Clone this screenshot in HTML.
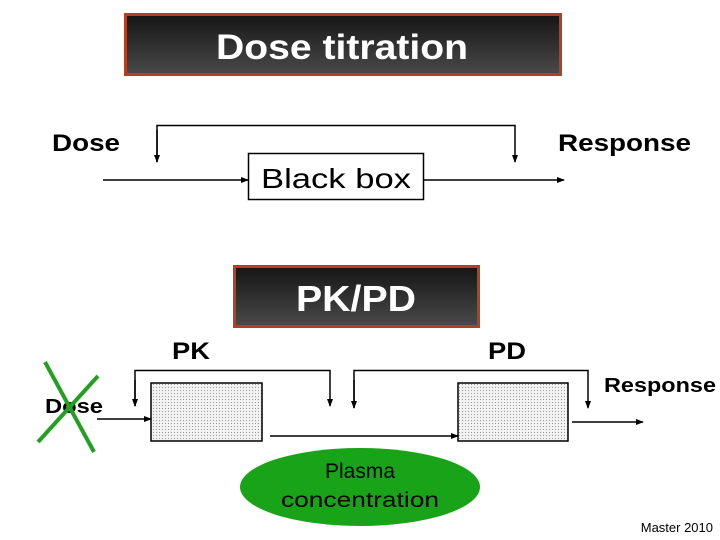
<!DOCTYPE html>
<html><head><meta charset="utf-8"><style>
html,body{margin:0;padding:0;background:#fff;width:720px;height:540px;overflow:hidden}
svg{display:block}
text{font-family:"Liberation Sans",Arial,sans-serif;font-weight:bold}
</style></head><body>
<svg width="720" height="540" viewBox="0 0 720 540" xmlns="http://www.w3.org/2000/svg">
<defs>
<linearGradient id="g" x1="0" y1="0" x2="0" y2="1">
<stop offset="0" stop-color="#151515"/><stop offset="1" stop-color="#4a4a4a"/>
</linearGradient>
<pattern id="dots" width="3" height="3" patternUnits="userSpaceOnUse">
<rect width="3" height="3" fill="#f2f2f2"/><rect width="1" height="1" fill="#9a9a9a"/>
</pattern>
<marker id="a" markerWidth="8" markerHeight="8" refX="7" refY="4" orient="auto" markerUnits="userSpaceOnUse">
<path d="M0,1 L8,4 L0,7 Z" fill="#000"/>
</marker>
</defs>

<!-- Title -->
<rect x="125.5" y="14.5" width="435" height="60" fill="url(#g)" stroke="#b5401e" stroke-width="3"/>
<text x="342" y="59" font-size="35" fill="#fff" text-anchor="middle" textLength="252" lengthAdjust="spacingAndGlyphs">Dose titration</text>

<text x="52" y="151" font-size="24" fill="#000" textLength="68" lengthAdjust="spacingAndGlyphs">Dose</text>
<text x="558" y="151" font-size="24" fill="#000" textLength="133" lengthAdjust="spacingAndGlyphs">Response</text>

<polyline points="157,162 157,125.5 515,125.5 515,162" fill="none" stroke="#000" stroke-width="1.5" marker-end="url(#a)"/>
<line x1="157" y1="130" x2="157" y2="162" stroke="#000" stroke-width="1.5" marker-end="url(#a)"/>
<rect x="248.5" y="153.5" width="175" height="46" fill="#fff" stroke="#000" stroke-width="1.5"/>
<text x="336" y="188" font-size="28" fill="#000" text-anchor="middle" font-weight="normal" style="font-weight:normal" textLength="150" lengthAdjust="spacingAndGlyphs">Black box</text>
<line x1="103" y1="180" x2="248" y2="180" stroke="#000" stroke-width="1.5" marker-end="url(#a)"/>
<line x1="424" y1="180" x2="564" y2="180" stroke="#000" stroke-width="1.5" marker-end="url(#a)"/>

<!-- PK/PD -->
<rect x="234.5" y="266.5" width="244" height="60" fill="url(#g)" stroke="#b5401e" stroke-width="3"/>
<text x="356" y="311" font-size="36" fill="#fff" text-anchor="middle" textLength="120" lengthAdjust="spacingAndGlyphs">PK/PD</text>

<text x="172" y="359" font-size="24" fill="#000" textLength="38" lengthAdjust="spacingAndGlyphs">PK</text>
<text x="488" y="359" font-size="24" fill="#000" textLength="38" lengthAdjust="spacingAndGlyphs">PD</text>
<text x="604" y="392" font-size="20" fill="#000" textLength="112" lengthAdjust="spacingAndGlyphs">Response</text>
<text x="45" y="413" font-size="20" fill="#000" textLength="58" lengthAdjust="spacingAndGlyphs">Dose</text>

<polyline points="135,406 135,370.5 330,370.5 330,406" fill="none" stroke="#000" stroke-width="1.5" marker-end="url(#a)"/>
<line x1="135" y1="380" x2="135" y2="406" stroke="#000" stroke-width="1.5" marker-end="url(#a)"/>
<polyline points="354,408 354,370.5 588,370.5 588,408" fill="none" stroke="#000" stroke-width="1.5" marker-end="url(#a)"/>
<line x1="354" y1="380" x2="354" y2="408" stroke="#000" stroke-width="1.5" marker-end="url(#a)"/>

<rect x="151" y="383" width="111" height="58" fill="url(#dots)" stroke="#000" stroke-width="1.5"/>
<rect x="458" y="383" width="110" height="58" fill="url(#dots)" stroke="#000" stroke-width="1.5"/>

<line x1="97" y1="419" x2="151" y2="419" stroke="#000" stroke-width="1.5" marker-end="url(#a)"/>
<line x1="270" y1="436" x2="458" y2="436" stroke="#000" stroke-width="1.5" marker-end="url(#a)"/>
<line x1="572" y1="422" x2="643" y2="422" stroke="#000" stroke-width="1.5" marker-end="url(#a)"/>

<line x1="45" y1="362" x2="94" y2="452" stroke="#22a022" stroke-width="4"/>
<line x1="98" y1="376" x2="38" y2="442" stroke="#22a022" stroke-width="4"/>

<ellipse cx="360" cy="487" rx="120" ry="39" fill="#19a319"/>
<text x="360" y="478" font-size="21" fill="#000" text-anchor="middle" style="font-weight:normal">Plasma</text>
<text x="360" y="507" font-size="21" fill="#000" text-anchor="middle" style="font-weight:normal" textLength="158" lengthAdjust="spacingAndGlyphs">concentration</text>

<text x="713" y="532" font-size="13" fill="#000" text-anchor="end" style="font-weight:normal">Master 2010</text>
</svg>
</body></html>
